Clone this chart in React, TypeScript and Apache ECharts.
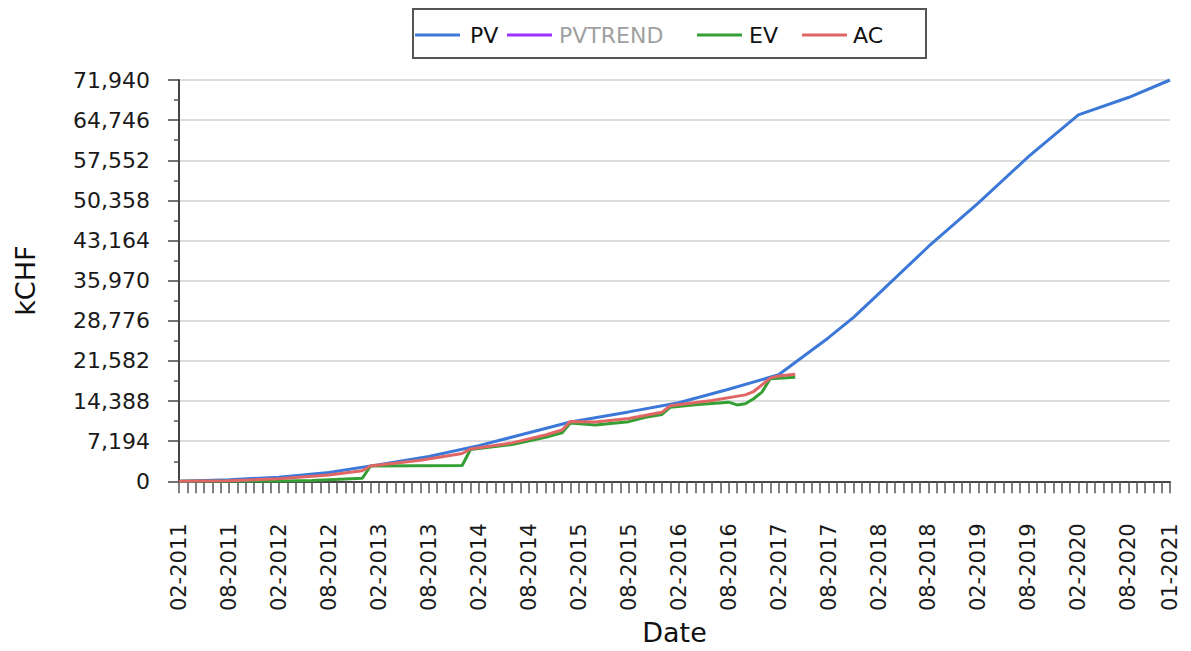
import React, { useEffect, useRef } from "react";
import * as echarts from "echarts";

// Month categories 02-2011 .. 01-2021
const categories: string[] = [];
for (let i = 0; i < 120; i++) {
  const m = ((1 + i) % 12) + 1;
  const y = 2011 + Math.floor((1 + i) / 12);
  categories.push(`${m < 10 ? "0" + m : m}-${y}`);
}

const yMax = 71940;
const yStep = 7194;

const pvMonths = ["02-2011", "08-2011", "02-2012", "08-2012", "02-2013", "08-2013", "02-2014", "08-2014", "01-2015", "08-2015", "02-2016", "08-2016", "02-2017", "08-2017", "11-2017", "02-2018", "08-2018", "02-2019", "08-2019", "02-2020", "08-2020", "01-2021"];
const pvValues = [0, 300, 750, 1600, 3000, 4450, 6400, 8700, 10650, 12450, 14100, 16500, 19100, 25750, 29400, 33600, 42100, 49900, 58200, 65700, 68800, 71940];

const acMonths = ["02-2011", "08-2011", "02-2012", "08-2012", "12-2012", "01-2013", "07-2013", "12-2013", "01-2014", "06-2014", "10-2014", "12-2014", "01-2015", "04-2015", "08-2015", "12-2015", "01-2016", "06-2016", "10-2016", "11-2016", "12-2016", "01-2017", "02-2017", "04-2017"];
const acValues = [0, 120, 450, 1150, 1900, 2750, 3800, 5000, 5800, 6900, 8300, 9200, 10750, 10650, 11250, 12400, 13550, 14500, 15500, 16100, 17300, 18500, 18900, 19200];

const evMonths = ["02-2011", "01-2012", "06-2012", "12-2012", "01-2013", "12-2013", "01-2014", "06-2014", "10-2014", "12-2014", "01-2015", "04-2015", "08-2015", "10-2015", "12-2015", "01-2016", "04-2016", "08-2016", "09-2016", "10-2016", "11-2016", "12-2016", "01-2017", "04-2017"];
const evValues = [0, 0, 150, 550, 2750, 2850, 5700, 6600, 7900, 8700, 10450, 10100, 10700, 11500, 12000, 13300, 13750, 14200, 13700, 13900, 14800, 16000, 18400, 18650];

const FONT = "DejaVu Sans";

function pairs(months: string[], values: number[]) {
  return months.map((m, i) => [m, values[i]]);
}

export default function App() {
  const ref = useRef<HTMLDivElement>(null);
  useEffect(() => {
    if (!ref.current) return;
    const chart = echarts.init(ref.current, undefined, { renderer: "svg" });
    const legendBase = {
      top: 22,
      padding: 0,
      icon: "rect",
      itemWidth: 45,
      itemHeight: 3,
      textStyle: { fontFamily: FONT, fontSize: 22, color: "#111", lineHeight: 26 },
      selectedMode: false,
    };
    chart.setOption({
      animation: false,
      backgroundColor: "#fff",
      grid: { left: 179, right: 21, top: 80, bottom: 166 },
      graphic: [
        {
          type: "rect",
          z: 0,
          shape: { x: 413, y: 9, width: 513, height: 49 },
          style: { fill: "none", stroke: "#555", lineWidth: 2 },
        },
      ],
      legend: [
        { ...legendBase, left: 415, data: [{ name: "PV", textStyle: { padding: [0, 0, 0, 5] } }] },
        { ...legendBase, left: 507, data: [{ name: "PVTREND", textStyle: { color: "#a0a0a0", padding: [0, 0, 0, 2] } }] },
        { ...legendBase, left: 697, data: [{ name: "EV", textStyle: { padding: [0, 0, 0, 2] } }] },
        { ...legendBase, left: 802, data: [{ name: "AC", textStyle: { padding: [0, 0, 0, 1] } }] },
      ],
      xAxis: {
        type: "category",
        data: categories,
        boundaryGap: false,
        name: "Date",
        nameLocation: "middle",
        nameGap: 134,
        nameTextStyle: { fontFamily: FONT, fontSize: 27, color: "#111" },
        axisLine: { lineStyle: { color: "#444", width: 2 } },
        axisTick: { show: true, interval: 0, length: 12, lineStyle: { color: "#555", width: 1.5 } },
        axisLabel: {
          interval: (i: number) => i % 6 === 0 || i === 119,
          rotate: 90,
          margin: 42,
          fontFamily: FONT,
          fontSize: 21,
          color: "#1a1a1a",
        },
        splitLine: { show: false },
      },
      yAxis: {
        type: "value",
        min: 0,
        max: yMax,
        interval: yStep,
        name: "kCHF",
        nameLocation: "middle",
        nameGap: 140,
        nameRotate: 90,
        nameTextStyle: { fontFamily: FONT, fontSize: 27, color: "#111" },
        axisLine: { show: true, lineStyle: { color: "#444", width: 2 } },
        axisTick: { show: true, length: 11, lineStyle: { color: "#444", width: 1.5 } },
        minorTick: { show: true, splitNumber: 2, length: 5, lineStyle: { color: "#555", width: 1.5 } },
        splitLine: { lineStyle: { color: "#dcdcdc", width: 2 } },
        axisLabel: {
          margin: 29,
          fontFamily: FONT,
          fontSize: 22,
          color: "#1a1a1a",
          formatter: (v: number) => v.toLocaleString("en-US"),
        },
      },
      series: [
        {
          name: "PV",
          type: "line",
          symbol: "none",
          data: pairs(pvMonths, pvValues),
          lineStyle: { color: "#3c78d8", width: 3 },
          itemStyle: { color: "#3c78d8" },
        },
        {
          name: "PVTREND",
          type: "line",
          symbol: "none",
          data: [],
          lineStyle: { color: "#9b30ff", width: 3 },
          itemStyle: { color: "#9b30ff" },
        },
        {
          name: "EV",
          type: "line",
          symbol: "none",
          data: pairs(evMonths, evValues),
          lineStyle: { color: "#34a034", width: 3 },
          itemStyle: { color: "#34a034" },
        },
        {
          name: "AC",
          type: "line",
          symbol: "none",
          data: pairs(acMonths, acValues),
          lineStyle: { color: "#e06666", width: 3 },
          itemStyle: { color: "#e06666" },
        },
      ],
    });
    return () => chart.dispose();
  }, []);
  return (
    <div
      ref={ref}
      style={{ position: "fixed", left: 0, top: 0, width: 1191, height: 651, background: "#fff" }}
    />
  );
}
